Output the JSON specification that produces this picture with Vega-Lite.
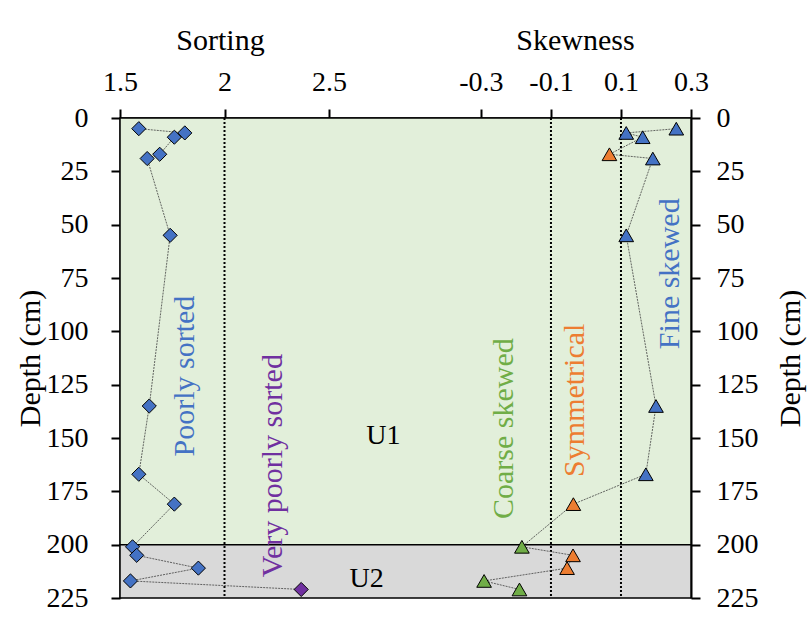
{
  "$schema": "https://vega.github.io/schema/vega-lite/v6.json",
  "width": 571,
  "height": 480,
  "autosize": {"type": "none"},
  "padding": {"left": 120, "top": 118, "right": 118, "bottom": 30},
  "background": "white",
  "config": {
    "font": "Liberation Serif",
    "view": {"stroke": null},
    "axis": {
      "grid": false,
      "domainColor": "black",
      "domainWidth": 2,
      "tickColor": "black",
      "tickWidth": 2,
      "tickSize": 9,
      "labelFont": "Liberation Serif",
      "labelFontSize": 28,
      "labelColor": "black",
      "labelFlush": false,
      "labelOverlap": false,
      "titleFont": "Liberation Serif",
      "titleFontSize": 30,
      "titleFontWeight": "normal",
      "titleColor": "black",
      "zindex": 1
    },
    "text": {"font": "Liberation Serif"}
  },
  "datasets": {
    "samples": [
      {"depth": 5, "sorting": 1.59, "skewness": 0.258, "sortClass": "Poorly sorted", "skewClass": "Fine skewed"},
      {"depth": 7, "sorting": 1.81, "skewness": 0.115, "sortClass": "Poorly sorted", "skewClass": "Fine skewed"},
      {"depth": 9, "sorting": 1.76, "skewness": 0.162, "sortClass": "Poorly sorted", "skewClass": "Fine skewed"},
      {"depth": 17, "sorting": 1.69, "skewness": 0.067, "sortClass": "Poorly sorted", "skewClass": "Symmetrical"},
      {"depth": 19, "sorting": 1.63, "skewness": 0.191, "sortClass": "Poorly sorted", "skewClass": "Fine skewed"},
      {"depth": 55, "sorting": 1.74, "skewness": 0.115, "sortClass": "Poorly sorted", "skewClass": "Fine skewed"},
      {"depth": 135, "sorting": 1.64, "skewness": 0.2, "sortClass": "Poorly sorted", "skewClass": "Fine skewed"},
      {"depth": 167, "sorting": 1.59, "skewness": 0.171, "sortClass": "Poorly sorted", "skewClass": "Fine skewed"},
      {"depth": 181, "sorting": 1.76, "skewness": -0.036, "sortClass": "Poorly sorted", "skewClass": "Symmetrical"},
      {"depth": 201, "sorting": 1.56, "skewness": -0.183, "sortClass": "Poorly sorted", "skewClass": "Coarse skewed"},
      {"depth": 205, "sorting": 1.58, "skewness": -0.037, "sortClass": "Poorly sorted", "skewClass": "Symmetrical"},
      {"depth": 211, "sorting": 1.875, "skewness": -0.054, "sortClass": "Poorly sorted", "skewClass": "Symmetrical"},
      {"depth": 217, "sorting": 1.55, "skewness": -0.291, "sortClass": "Poorly sorted", "skewClass": "Coarse skewed"},
      {"depth": 221, "sorting": 2.367, "skewness": -0.19, "sortClass": "Very poorly sorted", "skewClass": "Coarse skewed"}
    ],
    "units": [
      {"unit": "U1", "top": 0, "bottom": 200, "labelDepth": 149, "labelSorting": 2.76},
      {"unit": "U2", "top": 200, "bottom": 225, "labelDepth": 216, "labelSorting": 2.68}
    ],
    "sortLabels": [
      {"label": "Poorly sorted", "sorting": 1.81, "depth": 121},
      {"label": "Very poorly sorted", "sorting": 2.233, "depth": 163}
    ],
    "skewLabels": [
      {"label": "Coarse skewed", "skewness": -0.235, "depth": 145.6},
      {"label": "Symmetrical", "skewness": -0.031, "depth": 132.3},
      {"label": "Fine skewed", "skewness": 0.241, "depth": 73}
    ]
  },
  "layer": [
    {
      "layer": [
        {
          "data": {"name": "units"},
          "mark": {"type": "rect", "stroke": "black", "strokeWidth": 1.5},
          "encoding": {
            "y": {
              "field": "top", "type": "quantitative", "title": "Depth (cm)",
              "scale": {"domain": [0, 225], "reverse": true, "nice": false, "zero": false},
              "axis": {
                "orient": "left",
                "values": [0, 25, 50, 75, 100, 125, 150, 175, 200, 225],
                "labelPadding": 23,
                "titleX": -90, "titleY": 240, "titleAngle": 270,
                "titleAlign": "center", "titleBaseline": "middle"
              }
            },
            "y2": {"field": "bottom"},
            "fill": {
              "field": "unit", "type": "nominal",
              "scale": {"domain": ["U1", "U2"], "range": ["#e2efda", "#d9d9d9"]},
              "legend": null
            }
          }
        },
        {
          "data": {"values": [{}]},
          "mark": {"type": "rule", "strokeDash": [2, 2], "strokeWidth": 2, "color": "black"},
          "encoding": {"x": {"datum": 2, "type": "quantitative", "title": "Sorting"}}
        },
        {
          "data": {"name": "samples"},
          "mark": {"type": "line", "color": "#404040", "strokeWidth": 0.8, "strokeDash": [2, 1]},
          "encoding": {
            "x": {
              "field": "sorting", "type": "quantitative", "title": "Sorting",
              "scale": {"domain": [1.5, 4.232], "nice": false, "zero": false},
              "axis": {
                "orient": "top",
                "values": [1.5, 2, 2.5],
                "format": "~g",
                "labelPadding": 13,
                "titleX": 100, "titleY": -69,
                "titleAlign": "center", "titleBaseline": "alphabetic"
              }
            },
            "y": {"field": "depth", "type": "quantitative", "title": "Depth (cm)"},
            "order": {"field": "depth", "type": "quantitative"}
          }
        },
        {
          "data": {"name": "samples"},
          "mark": {"type": "point", "shape": "diamond", "filled": true, "stroke": "black", "strokeWidth": 1, "size": 200, "opacity": 1},
          "encoding": {
            "x": {"field": "sorting", "type": "quantitative", "title": "Sorting"},
            "y": {"field": "depth", "type": "quantitative", "title": "Depth (cm)"},
            "color": {
              "field": "sortClass", "type": "nominal",
              "scale": {
                "domain": ["Poorly sorted", "Very poorly sorted", "Coarse skewed", "Symmetrical", "Fine skewed"],
                "range": ["#4472c4", "#7030a0", "#70ad47", "#ed7d31", "#4472c4"]
              },
              "legend": null
            }
          }
        },
        {
          "data": {"name": "sortLabels"},
          "mark": {"type": "text", "angle": 270, "align": "center", "baseline": "middle", "fontSize": 30},
          "encoding": {
            "x": {"field": "sorting", "type": "quantitative", "title": "Sorting"},
            "y": {"field": "depth", "type": "quantitative", "title": "Depth (cm)"},
            "text": {"field": "label"},
            "color": {"field": "label", "type": "nominal", "legend": null}
          }
        },
        {
          "data": {"name": "units"},
          "mark": {"type": "text", "align": "center", "baseline": "middle", "fontSize": 28, "color": "black"},
          "encoding": {
            "x": {"field": "labelSorting", "type": "quantitative", "title": "Sorting"},
            "y": {"field": "labelDepth", "type": "quantitative", "title": "Depth (cm)"},
            "text": {"field": "unit"}
          }
        }
      ]
    },
    {
      "layer": [
        {
          "data": {"values": [{}]},
          "mark": {"type": "rule", "strokeDash": [2, 2], "strokeWidth": 2, "color": "black"},
          "encoding": {"x": {"datum": -0.1, "type": "quantitative", "title": "Skewness"}}
        },
        {
          "data": {"values": [{}]},
          "mark": {"type": "rule", "strokeDash": [2, 2], "strokeWidth": 2, "color": "black"},
          "encoding": {"x": {"datum": 0.1, "type": "quantitative", "title": "Skewness"}}
        },
        {
          "data": {"name": "samples"},
          "mark": {"type": "line", "color": "#404040", "strokeWidth": 0.8, "strokeDash": [2, 1]},
          "encoding": {
            "x": {
              "field": "skewness", "type": "quantitative", "title": "Skewness",
              "scale": {"domain": [-1.331, 0.3], "nice": false, "zero": false},
              "axis": {
                "orient": "top",
                "values": [-0.3, -0.1, 0.1, 0.3],
                "labelExpr": "datum.value < 0 ? '-' + format(-datum.value, '.1f') : format(datum.value, '.1f')",
                "labelPadding": 13,
                "titleX": 455, "titleY": -69,
                "titleAlign": "center", "titleBaseline": "alphabetic"
              }
            },
            "y": {
              "field": "depth", "type": "quantitative", "title": "Depth (cm)",
              "scale": {"domain": [0, 225], "reverse": true, "nice": false, "zero": false},
              "axis": {
                "orient": "right",
                "values": [0, 25, 50, 75, 100, 125, 150, 175, 200, 225],
                "labelPadding": 16,
                "titleX": 99, "titleY": 240, "titleAngle": 270,
                "titleAlign": "center", "titleBaseline": "middle"
              }
            },
            "order": {"field": "depth", "type": "quantitative"}
          }
        },
        {
          "data": {"name": "samples"},
          "mark": {"type": "point", "shape": "triangle-up", "filled": true, "stroke": "black", "strokeWidth": 1, "size": 215, "opacity": 1},
          "encoding": {
            "x": {"field": "skewness", "type": "quantitative", "title": "Skewness"},
            "y": {"field": "depth", "type": "quantitative", "title": "Depth (cm)"},
            "color": {"field": "skewClass", "type": "nominal", "legend": null}
          }
        },
        {
          "data": {"name": "skewLabels"},
          "mark": {"type": "text", "angle": 270, "align": "center", "baseline": "middle", "fontSize": 30},
          "encoding": {
            "x": {"field": "skewness", "type": "quantitative", "title": "Skewness"},
            "y": {"field": "depth", "type": "quantitative", "title": "Depth (cm)"},
            "text": {"field": "label"},
            "color": {"field": "label", "type": "nominal", "legend": null}
          }
        }
      ]
    }
  ],
  "resolve": {
    "scale": {"x": "independent", "y": "independent"},
    "axis": {"x": "independent", "y": "independent"}
  }
}
